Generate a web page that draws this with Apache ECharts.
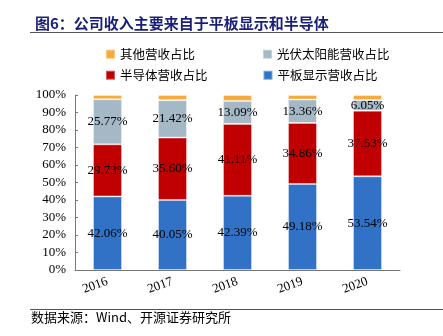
<!DOCTYPE html>
<html><head><meta charset="utf-8">
<script src="https://cdn.jsdelivr.net/npm/echarts@6/dist/echarts.min.js"></script>
<style>html,body{margin:0;padding:0;background:#fff}#c{width:443px;height:336px}</style>
</head><body><div id="c"></div>
<script>
var categories = ['2016','2017','2018','2019','2020'];
var panel = [42.06, 40.05, 42.39, 49.18, 53.54];
var semi = [29.73, 35.60, 41.11, 34.86, 37.53];
var solar = [25.77, 21.42, 13.09, 13.36, 6.05];
var other = [2.44, 2.93, 3.41, 2.60, 2.88];
var yTicks = [0,10,20,30,40,50,60,70,80,90,100];
var names = ['平板显示营收占比','半导体营收占比','光伏太阳能营收占比','其他营收占比'];
var colors = ['#3172C6','#C00000','#A5B8C6','#F8A93B'];

var serif = 'Liberation Serif';
var cjk = 'Noto Sans CJK SC';
function s(name, data, color, label){
  return {name:name, type:'bar', stack:'a', data:data, barWidth:29,
    itemStyle:{color:color, borderColor:'rgba(255,255,255,0.35)', borderWidth:1},
    label:{show:label, position:'inside', color:'#000', fontFamily:serif, fontSize:13,
      formatter:function(p){return p.value.toFixed(2)+'%';}}};
}
var chart = echarts.init(document.getElementById('c'));
chart.setOption({
  animation:false,
  title:{text:'图6：公司收入主要来自于平板显示和半导体', left:30, top:11,
    textStyle:{fontFamily:cjk, fontWeight:'bold', fontSize:15, color:'#1B1F7A'}},
  legend:[
    {data:[names[3],names[2]], left:100, top:43, itemWidth:9, itemHeight:9, itemGap:67,
      textStyle:{fontFamily:cjk, fontSize:12.5, color:'#000'}, icon:'rect'},
    {data:[names[1],names[0]], left:100, top:64, itemWidth:9, itemHeight:9, itemGap:55,
      textStyle:{fontFamily:cjk, fontSize:12.5, color:'#000'}, icon:'rect'}
  ],
  graphic:[
    {type:'line', shape:{x1:30,y1:32.5,x2:443,y2:32.5}, style:{stroke:'#555', lineWidth:1}},
    {type:'line', shape:{x1:30,y1:309.5,x2:443,y2:309.5}, style:{stroke:'#555', lineWidth:1}},
    {type:'text', left:31, top:311, style:{text:'数据来源：Wind、开源证券研究所', fontFamily:cjk, fontSize:13, fill:'#000'}}
  ],
  grid:{left:75, right:43, top:95, bottom:66},
  xAxis:{type:'category', data:categories,
    axisLine:{lineStyle:{color:'#777'}},
    axisTick:{inside:true, length:3, lineStyle:{color:'#777'}},
    axisLabel:{rotate:20, color:'#000', fontFamily:serif, fontSize:13, margin:11}},
  yAxis:{type:'value', min:0, max:100, interval:10,
    axisLine:{show:true, lineStyle:{color:'#777'}},
    axisTick:{show:true, inside:true, length:3, lineStyle:{color:'#777'}},
    splitLine:{show:false},
    axisLabel:{color:'#000', fontFamily:serif, fontSize:13, margin:9,
      formatter:function(v){return yTicks.indexOf(v)>=0 ? v+'%' : '';}}},
  series:[
    s(names[0], panel, colors[0], true),
    s(names[1], semi, colors[1], true),
    s(names[2], solar, colors[2], true),
    s(names[3], other, colors[3], false)
  ]
});
</script></body></html>
